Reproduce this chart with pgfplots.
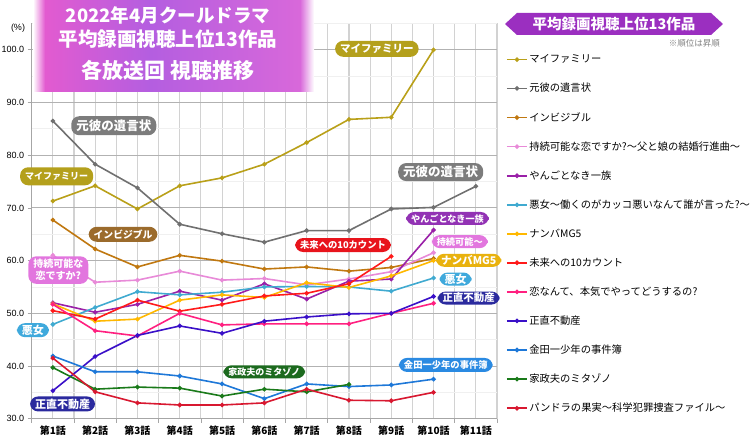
\documentclass[border=0pt]{standalone}
\usepackage{fontspec}
\setmainfont{Noto Sans CJK JP}
\newfontfamily\arial{Liberation Sans}
\usepackage{pgfplots}
\pgfplotsset{compat=1.18}
\usetikzlibrary{shapes.misc}
\definecolor{cMyfam}{HTML}{B9A019}
\definecolor{cMoto}{HTML}{707070}
\definecolor{cInv}{HTML}{C07810}
\definecolor{cJizo}{HTML}{E88AD8}
\definecolor{cYan}{HTML}{9A20A8}
\definecolor{cAku}{HTML}{40AAD0}
\definecolor{cNan}{HTML}{FFB800}
\definecolor{cMir}{HTML}{FF1A1A}
\definecolor{cKoi}{HTML}{FF2080}
\definecolor{cSho}{HTML}{3A10C8}
\definecolor{cKin}{HTML}{1E78D8}
\definecolor{cMit}{HTML}{1A7A1A}
\definecolor{cPan}{HTML}{D81830}
\definecolor{lMyfam}{HTML}{B4A01C}
\definecolor{lMoto}{HTML}{7C7C7C}
\definecolor{lInv}{HTML}{9B6B2C}
\definecolor{lJizo}{HTML}{E276DE}
\definecolor{lAku}{HTML}{3FA9DC}
\definecolor{lSho}{HTML}{2B2A9E}
\definecolor{lMit}{HTML}{1C6A1E}
\definecolor{lKin}{HTML}{2A8AE2}
\definecolor{lMir}{HTML}{E8141C}
\definecolor{lYan}{HTML}{9232B4}
\definecolor{lNan}{HTML}{E9B20E}
\definecolor{tPink}{HTML}{E25BD0}
\definecolor{tPurple}{HTML}{B45EE0}
\definecolor{tPink2}{HTML}{D868DA}
\definecolor{bannerPurple}{HTML}{9B2FC0}
\tikzset{lab/.style={rectangle, rounded corners=8pt, fill=#1, text=white, inner xsep=5pt, inner ysep=0pt, minimum height=17pt, font=\bfseries}}
\begin{document}
\begin{tikzpicture}[x=1pt,y=1pt]
\path[use as bounding box] (0,0) rectangle (750,443);
\begin{axis}[
  at={(31.7pt,24.3pt)}, anchor=south west,
  scale only axis, width=465.3pt, height=395.2pt,
  xmin=0.5, xmax=11.5, ymin=30, ymax=105,
  clip=false,
  axis x line=bottom, axis y line=left,
  axis line style={-, draw=gray!70, line width=0.8pt},
  xtick={1,...,11},
  xticklabels={第1話,第2話,第3話,第4話,第5話,第6話,第7話,第8話,第9話,第10話,第11話},
  xticklabel style={font=\bfseries\fontsize{10}{10}\selectfont, yshift=0pt},
  minor xtick={0.5,1.5,...,11.5},
  ytick={30,40,...,100},
  minor ytick={35,45,...,105},
  yticklabel style={font=\arial\fontsize{9}{9}\selectfont},
  /pgf/number format/.cd, fixed, fixed zerofill, precision=1, assume math mode=true, /pgfplots/.cd,
  tick align=outside,
  major tick length=4pt, minor tick length=4pt,
  major x tick style={draw=none},
  minor y tick style={draw=none},
  tick style={gray!70, line width=0.8pt},
  xmajorgrids, xminorgrids, ymajorgrids, yminorgrids,
  major x grid style={draw=gray!35, line width=1.1pt},
  minor x grid style={draw=gray!35, line width=1.1pt},
  major y grid style={draw=gray!60, line width=0.9pt},
  minor y grid style={draw=gray!12, line width=0.9pt},
  every axis plot/.append style={line width=1.6pt, mark=*, mark size=1.4pt},
  legend cell align=left,
  legend image code/.code={\draw[mark repeat=2,mark phase=2] plot coordinates {(0pt,0pt) (10pt,0pt) (20pt,0pt)};},
  legend style={draw=none, fill=none, at={(1.0193,0.925)}, anchor=north west,
    font=\fontsize{10.3}{12}\selectfont, row sep=15.9pt, inner sep=0pt,
    nodes={inner sep=1.5pt}},
]
\addplot[color=cMyfam] coordinates {(1,71.3)(2,74.2)(3,69.8)(4,74.2)(5,75.7)(6,78.3)(7,82.4)(8,86.8)(9,87.2)(10,100.0)};
\addlegendentry{マイファミリー}
\addplot[color=cMoto] coordinates {(1,86.5)(2,78.3)(3,73.8)(4,66.9)(5,65.1)(6,63.5)(7,65.7)(8,65.7)(9,69.8)(10,70.1)(11,74.1)};
\addlegendentry{元彼の遺言状}
\addplot[color=cInv] coordinates {(1,67.7)(2,62.2)(3,58.8)(4,61.0)(5,59.9)(6,58.4)(7,58.8)(8,58.0)(9,58.7)(10,60.4)};
\addlegendentry{インビジブル}
\addplot[color=cJizo] coordinates {(1,61.0)(2,55.9)(3,56.3)(4,58.0)(5,56.3)(6,56.6)(7,55.4)(8,56.5)(9,57.9)(10,61.5)};
\addlegendentry{持続可能な恋ですか?～父と娘の結婚行進曲～}
\addplot[color=cYan] coordinates {(1,52.0)(2,50.2)(3,51.7)(4,54.2)(5,52.5)(6,55.6)(7,52.7)(8,56.1)(9,56.5)(10,65.8)};
\addlegendentry{やんごとなき一族}
\addplot[color=cAku] coordinates {(1,47.9)(2,51.1)(3,54.1)(4,53.5)(5,54.0)(6,55.0)(7,55.1)(8,55.0)(9,54.2)(10,56.7)};
\addlegendentry{悪女～働くのがカッコ悪いなんて誰が言った?～}
\addplot[color=cNan] coordinates {(1,51.8)(2,48.5)(3,48.9)(4,52.5)(5,53.5)(6,53.0)(7,55.8)(8,54.9)(9,57.1)(10,60.0)};
\addlegendentry{ナンバMG5}
\addplot[color=cMir] coordinates {(1,50.5)(2,48.9)(3,52.5)(4,50.4)(5,51.7)(6,53.3)(7,53.8)(8,55.6)(9,60.8)};
\addlegendentry{未来への10カウント}
\addplot[color=cKoi] coordinates {(1,51.7)(2,46.7)(3,45.7)(4,50.0)(5,47.8)(6,48.0)(7,48.0)(8,48.0)(9,50.0)(10,51.9)};
\addlegendentry{恋なんて、本気でやってどうするの?}
\addplot[color=cSho] coordinates {(1,35.3)(2,41.8)(3,45.8)(4,47.6)(5,46.2)(6,48.5)(7,49.3)(8,49.9)(9,50.0)(10,53.2)};
\addlegendentry{正直不動産}
\addplot[color=cKin] coordinates {(1,41.9)(2,38.9)(3,38.9)(4,38.1)(5,36.6)(6,33.8)(7,36.6)(8,36.1)(9,36.4)(10,37.5)};
\addlegendentry{金田一少年の事件簿}
\addplot[color=cMit] coordinates {(1,39.7)(2,35.6)(3,36.0)(4,35.8)(5,34.3)(6,35.6)(7,35.1)(8,36.5)};
\addlegendentry{家政夫のミタゾノ}
\addplot[color=cPan] coordinates {(1,41.5)(2,35.1)(3,33.0)(4,32.6)(5,32.6)(6,33.0)(7,35.6)(8,33.5)(9,33.4)(10,35.0)};
\addlegendentry{パンドラの果実～科学犯罪捜査ファイル～}
% callout labels
\node[lab=lMyfam, font=\bfseries\fontsize{10.5}{10.5}\selectfont, minimum height=16pt] at (axis cs:8.66,100.2) {マイファミリー};
\node[lab=lMyfam, font=\bfseries\fontsize{9}{9}\selectfont, minimum height=18pt] at (axis cs:1.09,76.0) {マイファミリー};
\node[lab=lMoto, font=\bfseries\fontsize{12.5}{12.5}\selectfont, minimum height=19pt] at (axis cs:2.44,85.6) {元彼の遺言状};
\node[lab=lMoto, font=\bfseries\fontsize{12.5}{12.5}\selectfont, minimum height=18pt] at (axis cs:10.17,76.8) {元彼の遺言状};
\node[lab=lInv, font=\bfseries\fontsize{9.8}{9.8}\selectfont, minimum height=15pt] at (axis cs:2.66,65.0) {インビジブル};
\node[lab=lJizo, font=\bfseries\fontsize{10}{12}\selectfont, align=center, inner ysep=3pt] at (axis cs:1.13,58.2) {持続可能な\\恋ですか?};
\node[lab=lAku, font=\bfseries\fontsize{11}{11}\selectfont, minimum height=14pt] at (axis cs:0.53,46.8) {悪女};
\node[lab=lSho, font=\bfseries\fontsize{11}{11}\selectfont, minimum height=15pt] at (axis cs:1.23,32.8) {正直不動産};
\node[lab=lMit, font=\bfseries\fontsize{9}{9}\selectfont, minimum height=13pt] at (axis cs:6.0,38.9) {家政夫のミタゾノ};
\node[lab=lKin, font=\bfseries\fontsize{9.3}{9.3}\selectfont, minimum height=14pt] at (axis cs:10.29,40.2) {金田一少年の事件簿};
\node[lab=lMir, font=\bfseries\fontsize{9.3}{9.3}\selectfont, minimum height=14pt] at (axis cs:7.86,62.96) {未来への10カウント};
\node[lab=lYan, font=\bfseries\fontsize{9.1}{9.1}\selectfont, minimum height=13pt] at (axis cs:10.33,68.0) {やんごとなき一族};
\node[lab=lJizo, font=\bfseries\fontsize{9.2}{9.2}\selectfont, minimum height=13pt] at (axis cs:10.62,63.6) {持続可能～};
\node[lab=lNan, font=\bfseries\fontsize{10.6}{10.6}\selectfont, minimum height=13pt] at (axis cs:10.83,60.06) {ナンバMG5};
\node[lab=lAku, font=\bfseries\fontsize{11}{11}\selectfont, minimum height=13pt] at (axis cs:10.52,56.5) {悪女};
\node[lab=lSho, font=\bfseries\fontsize{10.4}{10.4}\selectfont, minimum height=13pt] at (axis cs:10.83,52.9) {正直不動産};
\end{axis}
% (%) label
\node[font=\arial\fontsize{9}{9}\selectfont] at (18,415) {(\%)};
% title box
\shade[left color=white, right color=tPink] (33,351) rectangle (45,443);
\shade[left color=tPink, right color=tPurple] (45,351) rectangle (150,443);
\shade[left color=tPurple, right color=tPink2] (150,351) rectangle (300,443);
\shade[left color=tPink2, right color=white] (300,351) rectangle (314,443);
\node[text=white, font=\bfseries\fontsize{18.5}{18.5}\selectfont] at (168,428) {2022年4月クールドラマ};
\node[text=white, font=\bfseries\fontsize{19.5}{19.5}\selectfont] at (168,404) {平均録画視聴上位13作品};
\node[text=white, font=\bfseries\fontsize{21}{21}\selectfont] at (168,373) {各放送回 視聴推移};
% legend banner
\fill[bannerPurple] (505,419) -- (517,430) -- (711,430) -- (723,419) -- (711,408) -- (517,408) -- cycle;
\node[text=white, font=\bfseries\fontsize{14.5}{14.5}\selectfont] at (614,419) {平均録画視聴上位13作品};
\node[anchor=east, text=gray, font=\fontsize{8.5}{8.5}\selectfont, inner sep=0pt] at (720,400) {※順位は昇順};
\end{tikzpicture}
\end{document}
